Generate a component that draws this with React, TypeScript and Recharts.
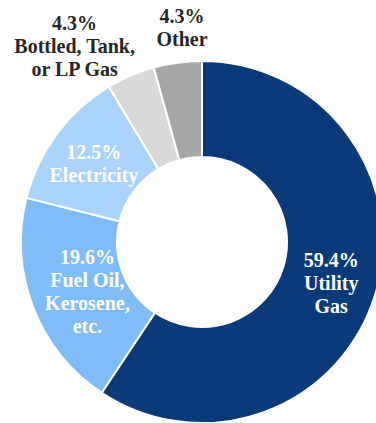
import { Cell, Pie, PieChart } from 'recharts'

if (typeof document !== 'undefined') document.body.style.margin = '0'

const CATEGORIES = ['Utility Gas', 'Fuel Oil, Kerosene, etc.', 'Electricity', 'Bottled, Tank, or LP Gas', 'Other']
const SHARES = [59.4, 19.6, 12.5, 4.3, 4.3]
const LABEL_LINES = [
  ['59.4%', 'Utility', 'Gas'],
  ['19.6%', 'Fuel Oil,', 'Kerosene,', 'etc.'],
  ['12.5%', 'Electricity'],
  ['4.3%', 'Bottled, Tank,', 'or LP Gas'],
  ['4.3%', 'Other'],
]

const COLORS = ['#0a3a7a', '#80bcf8', '#aad4fd', '#d9d9d9', '#a6a6a6']
const TEXT_COLORS = ['#ffffff', '#ffffff', '#ffffff', '#262626', '#262626']
// radius for label centre, plus a small nudge in px
const LABEL_RADIUS = [135, 125, 136, 232, 215]
const LABEL_NUDGE = [
  [0, 2],
  [2, 4],
  [1, 3],
  [-36, 17],
  [9, -1],
]

const data = CATEGORIES.map((name, i) => ({ name, value: SHARES[i] }))

const RAD = Math.PI / 180
const LINE_H = 23

function renderLabel(props: any) {
  const { cx, cy, midAngle, index } = props
  const r = LABEL_RADIUS[index]
  const x = cx + r * Math.cos(-midAngle * RAD) + LABEL_NUDGE[index][0]
  const y = cy + r * Math.sin(-midAngle * RAD) + LABEL_NUDGE[index][1]
  const lines = LABEL_LINES[index]
  const top = y - ((lines.length - 1) * LINE_H) / 2
  return (
    <text
      key={`lbl-${index}`}
      x={x}
      y={top}
      textAnchor="middle"
      dominantBaseline="central"
      fill={TEXT_COLORS[index]}
      fontFamily="'Liberation Serif', serif"
      fontWeight="bold"
      fontSize={20}
    >
      {lines.map((ln, j) => (
        <tspan key={j} x={x} dy={j === 0 ? 0 : LINE_H}>
          {ln}
        </tspan>
      ))}
    </text>
  )
}

export default function App() {
  return (
    <div style={{ width: 376, height: 423, background: '#fff' }}>
      <PieChart width={376} height={423} margin={{ top: 0, right: 0, bottom: 0, left: 0 }}>
        <Pie
          data={data}
          dataKey="value"
          nameKey="name"
          cx={202}
          cy={242}
          innerRadius={85}
          outerRadius={181}
          startAngle={90}
          endAngle={-270}
          stroke="#ffffff"
          strokeWidth={2}
          label={renderLabel}
          labelLine={false}
          isAnimationActive={false}
        >
          {data.map((entry, index) => (
            <Cell key={`cell-${index}`} fill={COLORS[index]} />
          ))}
        </Pie>
      </PieChart>
    </div>
  )
}
